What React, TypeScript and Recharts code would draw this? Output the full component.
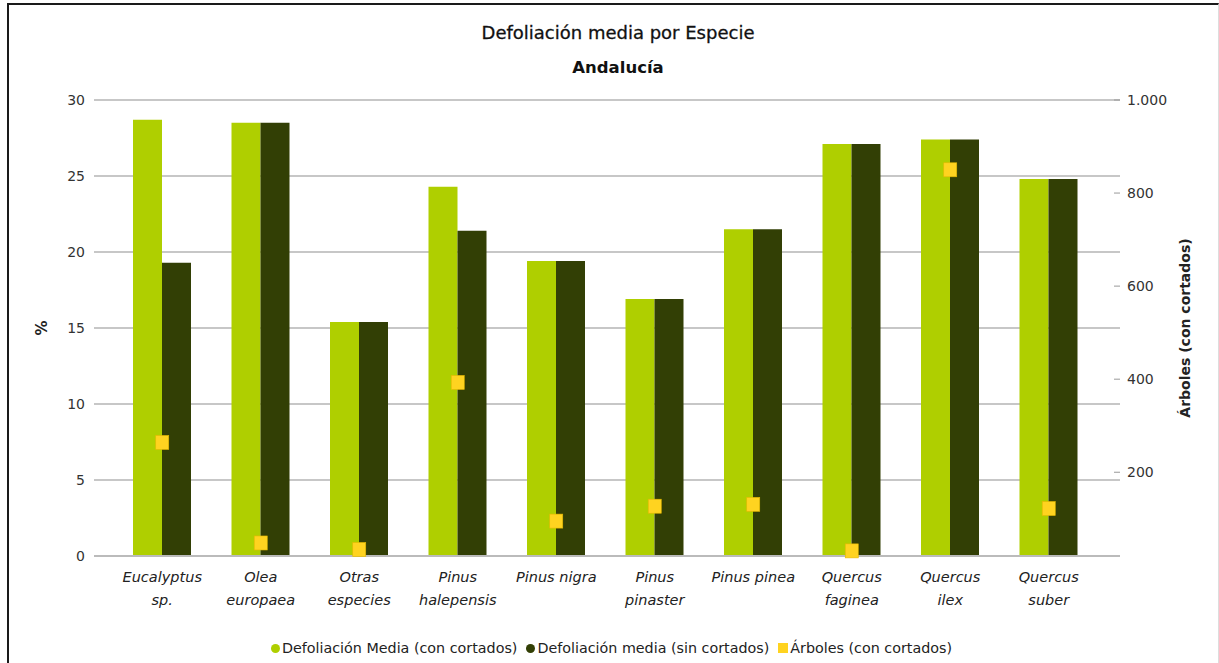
import React from 'react';
import { ComposedChart, Bar, Scatter, XAxis, YAxis, CartesianGrid } from 'recharts';

const species = [
  'Eucalyptus sp.',
  'Olea europaea',
  'Otras especies',
  'Pinus halepensis',
  'Pinus nigra',
  'Pinus pinaster',
  'Pinus pinea',
  'Quercus faginea',
  'Quercus ilex',
  'Quercus suber',
];
const defolConCortados = [28.7, 28.5, 15.4, 24.3, 19.4, 16.9, 21.5, 27.1, 27.4, 24.8];
const defolSinCortados = [19.3, 28.5, 15.4, 21.4, 19.4, 16.9, 21.5, 27.1, 27.4, 24.8];
const arbolesConCortados = [264, 48, 34, 393, 95, 127, 131, 31, 850, 122];
const leftTicks = [0, 5, 10, 15, 20, 25, 30];
const rightTicks = [200, 400, 600, 800, 1000];

const LIGHT = '#afcf00';
const DARK = '#323f05';
const YELLOW = '#ffd320';
const FONT = '"DejaVu Sans", Verdana, sans-serif';
const TEXT = '#333';

const data = species.map((name, i) => ({
  name,
  con: defolConCortados[i],
  sin: defolSinCortados[i],
  arboles: arbolesConCortados[i],
}));

// greedy word wrap, roughly what the original does with the band width
function wrap(label: string, max = 11): string[] {
  const lines: string[] = [];
  let cur = '';
  for (const w of label.split(' ')) {
    const next = cur ? cur + ' ' + w : w;
    if (next.length > max && cur) {
      lines.push(cur);
      cur = w;
    } else {
      cur = next;
    }
  }
  if (cur) lines.push(cur);
  return lines;
}

const CategoryTick = (props: any) => {
  const { x, y, payload } = props;
  const lines = wrap(String(payload.value));
  return (
    <text x={x} y={y} textAnchor="middle" fontFamily={FONT} fontSize={14.5} fontStyle="italic" fill="#222">
      {lines.map((l, i) => (
        <tspan key={i} x={x} y={y + 26 + i * 23}>
          {l}
        </tspan>
      ))}
    </text>
  );
};

const LeftTick = (props: any) => {
  const { x, y, payload } = props;
  return (
    <text x={x - 9} y={y + 5} textAnchor="end" fontFamily={FONT} fontSize={14} fill={TEXT}>
      {payload.value}
    </text>
  );
};

const RightTick = (props: any) => {
  const { x, y, payload } = props;
  const label = Number(payload.value).toLocaleString('de-DE');
  return (
    <g>
      <line x1={x - 6} x2={x} y1={y} y2={y} stroke="#999" />
      <text x={x + 7} y={y + 5} textAnchor="start" fontFamily={FONT} fontSize={14} fill={TEXT}>
        {label}
      </text>
    </g>
  );
};

const SquareMarker = (props: any) => {
  const { cx, cy } = props;
  if (cx == null || cy == null) return null;
  return <rect x={cx - 6.5} y={cy - 7} width={13} height={14} fill={YELLOW} stroke="#e6b800" strokeWidth={0.6} />;
};

const legendItems = [
  { label: 'Defoliación Media (con cortados)', color: LIGHT, shape: 'circle' },
  { label: 'Defoliación media (sin cortados)', color: DARK, shape: 'circle' },
  { label: 'Árboles (con cortados)', color: YELLOW, shape: 'square' },
];

export default function App() {
  return (
    <div style={{ position: 'absolute', left: 0, top: 0, width: 1219, height: 663, overflow: 'hidden', background: '#fff' }}>
      {/* frame */}
      <div
        style={{
          position: 'absolute',
          left: 7,
          top: 3,
          width: 1212,
          height: 660,
          boxSizing: 'border-box',
          borderTop: '2px solid #1a1a1a',
          borderLeft: '2px solid #1a1a1a',
          borderRight: '1px solid #ddd',
        }}
      />
      <div
        style={{
          position: 'absolute',
          left: 0,
          width: 1236,
          top: 22,
          textAlign: 'center',
          fontFamily: FONT,
          fontSize: 18,
          color: '#111',
          WebkitTextStroke: '0.3px #111',
        }}
      >
        Defoliación media por Especie
      </div>
      <div
        style={{
          position: 'absolute',
          left: 0,
          width: 1236,
          top: 58,
          textAlign: 'center',
          fontFamily: FONT,
          fontSize: 16.5,
          fontWeight: 'bold',
          color: '#111',
        }}
      >
        Andalucía
      </div>

      <div style={{ position: 'absolute', left: 0, top: 0 }}>
        <ComposedChart
          width={1219}
          height={663}
          data={data}
          margin={{ top: 100, right: 0, bottom: 0, left: 0 }}
          barGap={0}
          barSize={29}
        >
          <CartesianGrid yAxisId="left" vertical={false} stroke="#8f8f8f" strokeWidth={1.2} />
          <XAxis
            dataKey="name"
            height={107}
            tickSize={0}
            tickMargin={0}
            interval={0}
            padding={{ left: 19, right: 22 }}
            axisLine={{ stroke: '#bbb', strokeWidth: 2 }}
            tickLine={false}
            tick={<CategoryTick />}
          />
          <YAxis
            yAxisId="left"
            orientation="left"
            width={94}
            domain={[0, 30]}
            ticks={leftTicks}
            tickSize={0}
            tickMargin={0}
            axisLine={false}
            tickLine={false}
            tick={<LeftTick />}
            label={{
              value: '%',
              angle: -90,
              position: 'center',
              dx: -5,
              style: { fontFamily: FONT, fontSize: 15, fontWeight: 'bold', fill: '#222' },
            }}
          />
          <YAxis
            yAxisId="right"
            orientation="right"
            width={99}
            domain={[20, 1000]}
            ticks={rightTicks}
            tickSize={0}
            tickMargin={0}
            axisLine={false}
            tickLine={false}
            tick={<RightTick />}
            label={{
              value: 'Árboles (con cortados)',
              angle: -90,
              position: 'center',
              dx: 16,
              style: { fontFamily: FONT, fontSize: 14, fontWeight: 'bold', fill: '#222' },
            }}
          />
          <Bar yAxisId="left" dataKey="con" fill={LIGHT} isAnimationActive={false} />
          <Bar yAxisId="left" dataKey="sin" fill={DARK} isAnimationActive={false} />
          <Scatter yAxisId="right" dataKey="arboles" shape={<SquareMarker />} isAnimationActive={false} />
        </ComposedChart>
      </div>

      {/* legend */}
      <div
        style={{
          position: 'absolute',
          left: 0,
          width: 1232,
          top: 640,
          display: 'flex',
          justifyContent: 'center',
          alignItems: 'center',
          fontFamily: FONT,
          fontSize: 14.3,
          color: '#222',
          whiteSpace: 'nowrap',
        }}
      >
        {legendItems.map((it) => (
          <span key={it.label} style={{ display: 'inline-flex', alignItems: 'center', marginRight: 9 }}>
            <span
              style={{
                display: 'inline-block',
                width: it.shape === 'circle' ? 9 : 10,
                height: it.shape === 'circle' ? 9 : 10,
                borderRadius: it.shape === 'circle' ? '50%' : 0,
                background: it.color,
                marginRight: 2,
              }}
            />
            {it.label}
          </span>
        ))}
      </div>
    </div>
  );
}
